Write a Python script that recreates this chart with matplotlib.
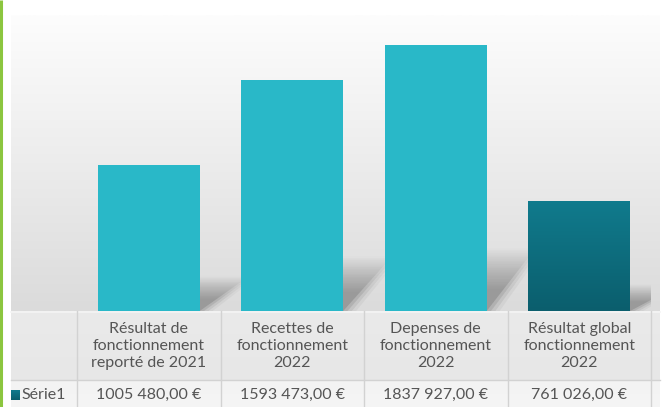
import matplotlib
matplotlib.use("Agg")
import matplotlib.pyplot as plt
from matplotlib.patches import Polygon
from matplotlib.transforms import blended_transform_factory
import numpy as np

# données
categories = ["Résultat de\nfonctionnement\nreporté de 2021",
              "Recettes de\nfonctionnement\n2022",
              "Depenses de\nfonctionnement\n2022",
              "Résultat global\nfonctionnement\n2022"]
valeurs = [1005480, 1593473, 1837927, 761026]
etiquettes = ["1005 480,00 €", "1593 473,00 €", "1837 927,00 €", "761 026,00 €"]
serie = "Série1"

W, H = 663, 407
CLAIR = "#29b8c8"
FONCE_HAUT, FONCE_BAS = "#107b8d", "#0b5e6d"
TEXTE = "#555555"
TRAIT = "#d2d2d2"
plt.rcParams['font.family'] = ['Lato', 'DejaVu Sans']


def hex2rgb(h):
    return np.array([int(h[i:i + 2], 16) / 255 for i in (1, 3, 5)])


def degrade_vertical(ax, extent, haut, bas, n=128, clip=None, zorder=0):
    t = np.linspace(0, 1, n)[:, None]
    img = (1 - t)[..., None] * hex2rgb(bas) + t[..., None] * hex2rgb(haut)
    im = ax.imshow(img, extent=extent, origin='lower', aspect='auto',
                   zorder=zorder, interpolation='bilinear')
    if clip is not None:
        im.set_clip_path(clip)
    return im


def ombre(ax, x, h, larg):
    """ombre portee floue derriere une barre"""
    x0, x1 = x - larg / 2, x + larg / 2
    hs = 0.25 * h
    s = 0.36
    for k, a in zip((0.0, 0.03, 0.06, 0.09), (0.25, 0.16, 0.11, 0.07)):
        poly = Polygon([(x0, 0), (x1 + k, 0), (x1 + s + k, hs * (1 + k)), (x0 + s, hs * (1 + k))],
                       closed=True, facecolor='none', edgecolor='none')
        ax.add_patch(poly)
        alpha = np.clip(np.linspace(1.0, -0.1, 64) * 1.5, 0, 1) * a
        img = np.zeros((64, 1, 4))
        img[..., :3] = 0.33
        img[:, 0, 3] = alpha
        im = ax.imshow(img, extent=(x0, x1 + s + k, 0, hs * (1 + k)), origin='lower',
                       aspect='auto', zorder=1, interpolation='bilinear')
        im.set_clip_path(poly)


fig = plt.figure(figsize=(W / 100, H / 100), dpi=100)
fig.patch.set_facecolor('white')

# fond en pixels
bg = fig.add_axes([0, 0, 1, 1])
bg.set_xlim(0, W)
bg.set_ylim(H, 0)
bg.axis('off')
degrade_vertical(bg, (11, 660, 311, 15), "#fdfdfd", "#dbdbdb")
degrade_vertical(bg, (11, 660, 380, 311), "#eaeaea", "#e7e7e7")
degrade_vertical(bg, (11, 660, 407, 380), "#f3f3f3", "#f5f5f5")
bg.set_xlim(0, W)
bg.set_ylim(H, 0)
bg.plot([1, 1], [0, H], color="#8cc63f", lw=2.2, solid_capstyle='butt')
bg.plot([11, 660], [312, 312], color="#f4f4f4", lw=1.2)

# graphique
ax = fig.add_axes([77 / W, 1 - 311 / H, (651 - 77) / W, (311 - 15) / H])
ax.patch.set_visible(False)
ax.axis('off')
x = np.arange(len(valeurs))
larg = 0.71
for xi, v in zip(x, valeurs):
    ombre(ax, xi, v, larg)
couleurs = [CLAIR] * (len(valeurs) - 1) + [FONCE_HAUT]
barres = ax.bar(x, valeurs, width=larg, color=couleurs, zorder=2)
b = barres[-1]
degrade_vertical(ax, (b.get_x(), b.get_x() + b.get_width(), 0, b.get_height()),
                 FONCE_HAUT, FONCE_BAS, clip=b, zorder=3)
ax.set_xlim(-0.5, len(valeurs) - 0.5)
ax.set_ylim(0, 2.045e6)

# tableau de données
tr = blended_transform_factory(ax.transData, bg.transData)
for bord in np.arange(len(valeurs) + 1) - 0.5:
    bg.plot([bord, bord], [311, H], color=TRAIT, lw=1, transform=tr)
bg.plot([11, 660], [380, 380], color=TRAIT, lw=1)
for xi, cat, lab in zip(x, categories, etiquettes):
    bg.text(xi, 346, cat, transform=tr, ha='center', va='center', fontsize=11.5,
            color=TEXTE, linespacing=1.3)
    bg.text(xi, 395, lab, transform=tr, ha='center', va='center', fontsize=11.5,
            color=TEXTE)

degrade_vertical(bg, (11, 20, 400, 390), FONCE_HAUT, FONCE_BAS, zorder=3)
bg.set_xlim(0, W)
bg.set_ylim(H, 0)
bg.text(21, 395, serie, ha='left', va='center', fontsize=11.5, color=TEXTE)

fig.savefig("out.png", dpi=100)
